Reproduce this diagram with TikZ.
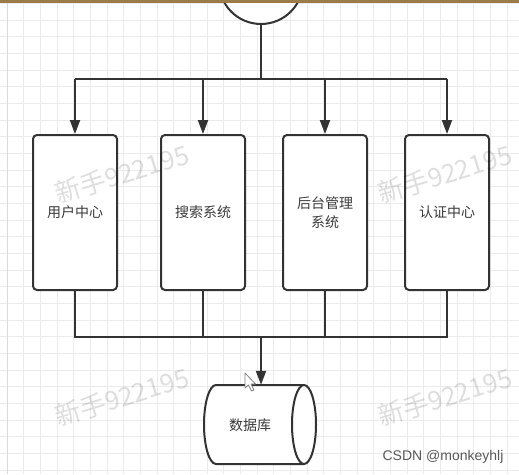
\documentclass[tikz,border=0pt]{standalone}
\usepackage{fontspec}
\setmainfont{Liberation Sans}
\newfontfamily\cjk{Noto Sans CJK SC}
\usetikzlibrary{arrows.meta}
\definecolor{ink}{HTML}{333333}
\definecolor{txt}{HTML}{3a3a3a}
\definecolor{gridc}{HTML}{EBEBEB}
\definecolor{topbar}{HTML}{9C7A4A}
\tikzset{
  wire/.style={draw=ink, line width=2pt},
  arr/.style={wire, -{Triangle[length=14pt,width=10pt]}},
  sysbox/.style={draw=ink, line width=2pt, fill=white, rounded corners=4pt,
    minimum width=84pt, minimum height=155pt, inner sep=0pt, text=txt,
    font=\cjk\fontsize{14}{19}\selectfont, align=center},
  mark wm/.style={font=\cjk\fontsize{26}{30}\selectfont, text=black, text opacity=0.13, rotate=17},
  gridline/.style={draw=gridc, line width=0.8pt}
}
\begin{document}
\begin{tikzpicture}[x=1pt,y=-1pt]
\useasboundingbox (0,0) rectangle (519,474);
\clip (0,0) rectangle (519,474);
\fill[white] (0,0) rectangle (519,474);
% grid
\foreach \i in {0,...,31} {\draw[gridline] ({7+16.667*\i},0) -- ++(0,474);}
\foreach \j in {0,...,28} {\draw[gridline] (0,{3.33+16.667*\j}) -- ++(519,0);}
\draw[draw=black!15, line width=1pt] (7,0) -- (7,474);
% top circle
\node[circle, draw=ink, line width=2pt, fill=white, minimum size=84pt, inner sep=0pt] (top) at (261,-18) {};
\fill[topbar] (0,0) rectangle (519,2.5);
% boxes
\node[sysbox] (b1) at (75,212.5) {用户中心};
\node[sysbox] (b2) at (203,212.5) {搜索系统};
\node[sysbox] (b3) at (325,212.5) {后台管理\\系统};
\node[sysbox] (b4) at (447,212.5) {认证中心};
% database
\node[minimum width=112pt, minimum height=79pt, inner sep=0pt] (db) at (260,424.5) {};
\draw[ink, line width=2pt, fill=white] (304,385) -- (216,385)
  arc[start angle=270, end angle=90, x radius=12, y radius=39.5] -- (304,464);
\draw[ink, line width=2pt, fill=white] (304,424.5) ellipse [x radius=12, y radius=39.5];
\node[text=txt, font=\cjk\fontsize{14}{17}\selectfont] (dbt) at (250,425) {数据库};
% connectors
\coordinate (tj) at (261,79);
\coordinate (bj) at (261,337);
\draw[wire] (top.south) -- (tj);
\draw[wire] (b1.north |- tj) -- (b4.north |- tj);
\draw[arr] (b1.north |- tj) -- (b1.north);
\draw[arr] (b2.north |- tj) -- (b2.north);
\draw[arr] (b3.north |- tj) -- (b3.north);
\draw[arr] (b4.north |- tj) -- (b4.north);
\draw[wire] (b1.south) -- (b1.south |- bj) -- (b4.south |- bj) -- (b4.south);
\draw[wire] (b2.south) -- (b2.south |- bj);
\draw[wire] (b3.south) -- (b3.south |- bj);
\draw[arr] (bj) -- (bj |- db.north);
% cursor
\draw[gray, fill=white, line width=0.8pt, line join=round] (245,373) -- (245,388) -- (248.5,385) -- (251.5,391) -- (254,390) -- (251,384) -- (255.5,384) -- cycle;
% watermarks
\node[mark wm] (wm1) at (122,174) {新手922195};
\node[mark wm] (wm2) at (445,174) {新手922195};
\node[mark wm] (wm3) at (122,397) {新手922195};
\node[mark wm] (wm4) at (445,397) {新手922195};
% signature
\node[text=black!65, font=\fontsize{14}{17}\selectfont] (sig) at (443,457) {CSDN @monkeyhlj};
\end{tikzpicture}
\end{document}
